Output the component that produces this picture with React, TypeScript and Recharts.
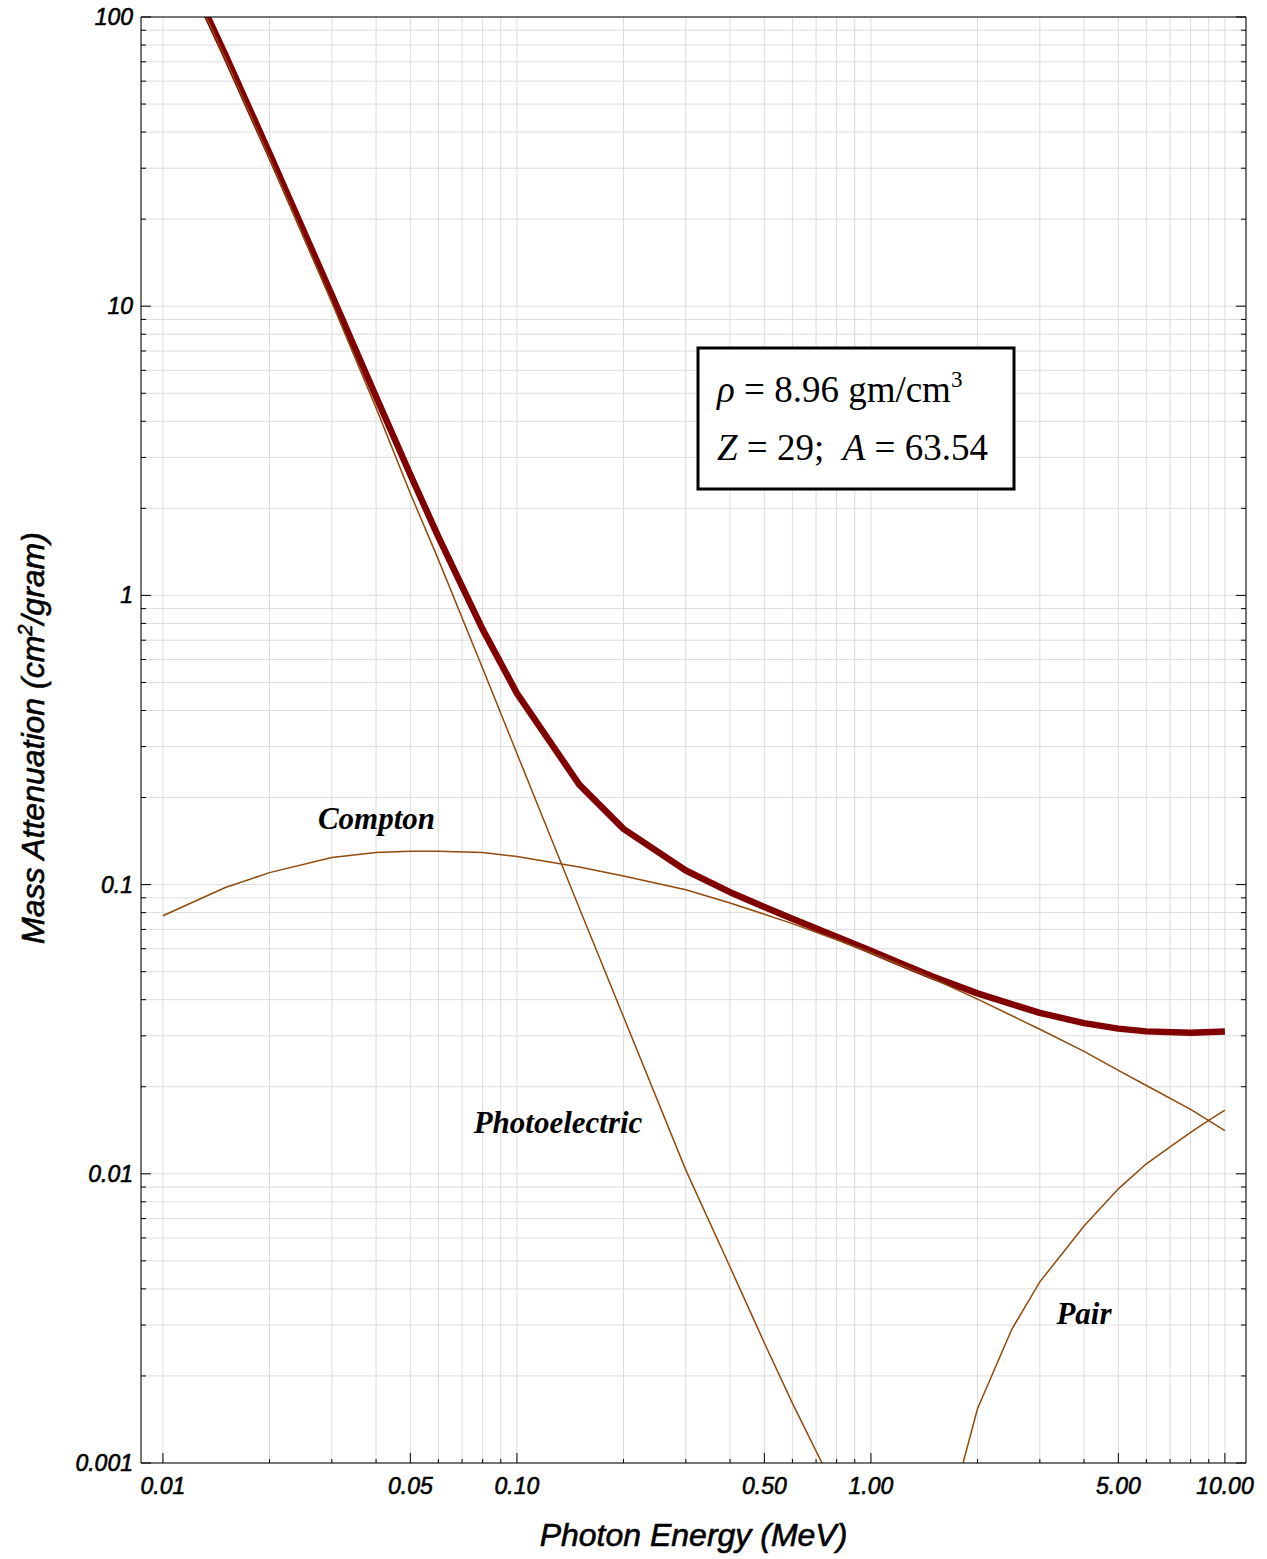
import React from "react";
import {
  LineChart,
  Line,
  XAxis,
  YAxis,
  CartesianGrid,
  Customized,
} from "recharts";

// Copper (Z=29) mass attenuation, cm^2/g vs photon energy in MeV
const E_TOTAL = [
  0.01, 0.015, 0.02, 0.03, 0.04, 0.05, 0.06, 0.08, 0.1, 0.15, 0.2, 0.3, 0.4,
  0.5, 0.6, 0.8, 1, 1.25, 1.5, 2, 3, 4, 5, 6, 8, 10,
];
const TOTAL = [
  215.9, 74.05, 33.79, 10.92, 4.862, 2.613, 1.593, 0.763, 0.4584, 0.2217,
  0.1559, 0.1119, 0.09413, 0.08362, 0.07625, 0.06605, 0.05901, 0.05261,
  0.04803, 0.04205, 0.03599, 0.03318, 0.03177, 0.03108, 0.03074, 0.03103,
];

const E_PHOTO = [
  0.01, 0.015, 0.02, 0.03, 0.04, 0.05, 0.06, 0.08, 0.1, 0.15, 0.2, 0.3, 0.4,
  0.5, 0.6, 0.8,
];
const PHOTO = [
  211, 72, 32.5, 10.3, 4.45, 2.25, 1.33, 0.56, 0.284, 0.083, 0.0349, 0.0103,
  0.00476, 0.0026, 0.00161, 0.00079,
];

const E_COMPTON = E_TOTAL;
const COMPTON = [
  0.078, 0.0977, 0.11, 0.124, 0.129, 0.1305, 0.1305, 0.129, 0.125, 0.115,
  0.107, 0.096, 0.0864, 0.079, 0.0733, 0.0645, 0.0581, 0.0519, 0.0472, 0.0402,
  0.0316, 0.0265, 0.0228, 0.0202, 0.0167, 0.0141,
];

const E_PAIR = [1.5, 2, 2.5, 3, 4, 5, 6, 7, 8, 9, 10];
const PAIR = [
  0.00041, 0.00154, 0.0029, 0.00423, 0.0066, 0.00887, 0.01083, 0.0124, 0.0139,
  0.0153, 0.0166,
];

// grid / ticks
const X_GRID = [
  0.01, 0.02, 0.03, 0.04, 0.05, 0.06, 0.07, 0.08, 0.09, 0.1, 0.2, 0.3, 0.4,
  0.5, 0.6, 0.7, 0.8, 0.9, 1, 2, 3, 4, 5, 6, 7, 8, 9, 10,
];
const X_LABEL_VALUES = [0.01, 0.05, 0.1, 0.5, 1, 5, 10];
const X_LABELS = ["0.01", "0.05", "0.10", "0.50", "1.00", "5.00", "10.00"];

const Y_GRID = [
  0.001, 0.002, 0.003, 0.004, 0.005, 0.006, 0.007, 0.008, 0.009, 0.01, 0.02,
  0.03, 0.04, 0.05, 0.06, 0.07, 0.08, 0.09, 0.1, 0.2, 0.3, 0.4, 0.5, 0.6, 0.7,
  0.8, 0.9, 1, 2, 3, 4, 5, 6, 7, 8, 9, 10, 20, 30, 40, 50, 60, 70, 80, 90, 100,
];
const Y_LABEL_VALUES = [0.001, 0.01, 0.1, 1, 10, 100];
const Y_LABELS = ["0.001", "0.01", "0.1", "1", "10", "100"];

const X_DOMAIN = [0.00867, 11.47];
const Y_DOMAIN = [0.001, 100];

const zip = (xs: number[], ys: number[]) => xs.map((e, i) => ({ e, v: ys[i] }));

const totalData = zip(E_TOTAL, TOTAL);
const photoData = zip(E_PHOTO, PHOTO);
const comptonData = zip(E_COMPTON, COMPTON);
const pairData = zip(E_PAIR, PAIR);

const TICK_FONT = {
  fontFamily: "'Liberation Sans', Arial, sans-serif",
  fontStyle: "italic" as const,
  fontSize: 23,
  fill: "#000",
  stroke: "#000",
  strokeWidth: 0.6,
};
const NOTE_FONT = {
  fontFamily: "'Liberation Serif', 'Times New Roman', serif",
  fontStyle: "italic" as const,
  fontWeight: 700,
  fontSize: 31,
  fill: "#000",
};
const BOX_FONT = {
  fontFamily: "'Liberation Serif', 'Times New Roman', serif",
  fontSize: 37,
  fill: "#000",
};
const THIN = "#8f4a0c";

const BottomTick = (props: any) => {
  const { x, y, payload } = props;
  const i = X_LABEL_VALUES.indexOf(payload.value);
  return (
    <g>
      <line x1={x} x2={x} y1={y} y2={y - (i >= 0 ? 10 : 4)} stroke="#000" />
      {i >= 0 && (
        <text x={x} y={y + 31} textAnchor="middle" {...TICK_FONT}>
          {X_LABELS[i]}
        </text>
      )}
    </g>
  );
};

const TopTick = (props: any) => {
  const { x, y, payload } = props;
  const major = X_LABEL_VALUES.indexOf(payload.value) >= 0;
  return <line x1={x} x2={x} y1={y} y2={y + (major ? 10 : 4)} stroke="#000" />;
};

const LeftTick = (props: any) => {
  const { x, y, payload } = props;
  const i = Y_LABEL_VALUES.indexOf(payload.value);
  return (
    <g>
      <line x1={x} x2={x + (i >= 0 ? 10 : 5)} y1={y} y2={y} stroke="#000" />
      {i >= 0 && (
        <text x={x - 8} y={y + 8} textAnchor="end" {...TICK_FONT}>
          {Y_LABELS[i]}
        </text>
      )}
    </g>
  );
};

const RightTick = (props: any) => {
  const { x, y, payload } = props;
  const major = Y_LABEL_VALUES.indexOf(payload.value) >= 0;
  return <line x1={x} x2={x - (major ? 10 : 5)} y1={y} y2={y} stroke="#000" />;
};

const Annotations = () => (
  <g>
    <text
      x={693.5}
      y={1546}
      textAnchor="middle"
      {...TICK_FONT}
      fontSize={32}
    >
      Photon Energy (MeV)
    </text>
    <text
      transform="translate(44, 738) rotate(-90)"
      textAnchor="middle"
      {...TICK_FONT}
      fontSize={32}
    >
      Mass Attenuation (cm
      <tspan dy={-12} fontSize={20}>
        2
      </tspan>
      <tspan dy={12}>/gram)</tspan>
    </text>

    <text x={376.5} y={829} textAnchor="middle" {...NOTE_FONT}>
      Compton
    </text>
    <text x={558} y={1133} textAnchor="middle" {...NOTE_FONT}>
      Photoelectric
    </text>
    <text x={1084} y={1324} textAnchor="middle" {...NOTE_FONT}>
      Pair
    </text>

    <rect x={698} y={348} width={316} height={141} fill="#fff" stroke="#000" strokeWidth={3} />
    <text x={717} y={402} {...BOX_FONT} style={{ whiteSpace: "pre" }}>
      <tspan fontStyle="italic">ρ</tspan>
      {" = 8.96 gm/cm"}
      <tspan dy={-15} fontSize={23}>
        3
      </tspan>
    </text>
    <text x={717} y={460} {...BOX_FONT} style={{ whiteSpace: "pre" }}>
      <tspan fontStyle="italic">Z</tspan>
      {" = 29;  "}
      <tspan fontStyle="italic">A</tspan>
      {" = 63.54"}
    </text>
  </g>
);

export default function App() {
  return (
    <div style={{ position: "absolute", left: 0, top: 0, background: "#fff" }}>
      <LineChart
        width={1267}
        height={1559}
        margin={{ top: 12, right: 16, bottom: 56, left: 21 }}
      >
        <CartesianGrid stroke="#dcdcdc" strokeWidth={1} />
        <XAxis
          dataKey="e"
          type="number"
          scale="log"
          domain={X_DOMAIN}
          allowDataOverflow
          ticks={X_GRID}
          interval={0}
          height={40}
          tickSize={0}
          tickMargin={0}
          tickLine={false}
          axisLine={{ stroke: "#000" }}
          tick={<BottomTick />}
        />
        <XAxis
          xAxisId="top"
          orientation="top"
          type="number"
          scale="log"
          domain={X_DOMAIN}
          allowDataOverflow
          ticks={X_GRID}
          interval={0}
          height={5}
          tickSize={0}
          tickMargin={0}
          tickLine={false}
          axisLine={{ stroke: "#000" }}
          tick={<TopTick />}
        />
        <YAxis
          type="number"
          scale="log"
          domain={Y_DOMAIN}
          allowDataOverflow
          ticks={Y_GRID}
          interval={0}
          width={120}
          tickSize={0}
          tickMargin={0}
          tickLine={false}
          axisLine={{ stroke: "#000" }}
          tick={<LeftTick />}
        />
        <YAxis
          yAxisId="right"
          orientation="right"
          type="number"
          scale="log"
          domain={Y_DOMAIN}
          allowDataOverflow
          ticks={Y_GRID}
          interval={0}
          width={5}
          tickSize={0}
          tickMargin={0}
          tickLine={false}
          axisLine={{ stroke: "#000" }}
          tick={<RightTick />}
        />
        <Line
          data={totalData}
          dataKey="v"
          type="linear"
          stroke="#800000"
          strokeWidth={6.5}
          strokeLinejoin="round"
          dot={false}
          isAnimationActive={false}
        />
        <Line
          data={photoData}
          dataKey="v"
          type="linear"
          stroke={THIN}
          strokeWidth={1.5}
          dot={false}
          isAnimationActive={false}
        />
        <Line
          data={comptonData}
          dataKey="v"
          type="linear"
          stroke={THIN}
          strokeWidth={1.5}
          dot={false}
          isAnimationActive={false}
        />
        <Line
          data={pairData}
          dataKey="v"
          type="linear"
          stroke={THIN}
          strokeWidth={1.5}
          dot={false}
          isAnimationActive={false}
        />
        <Customized component={<Annotations />} />
      </LineChart>
    </div>
  );
}
